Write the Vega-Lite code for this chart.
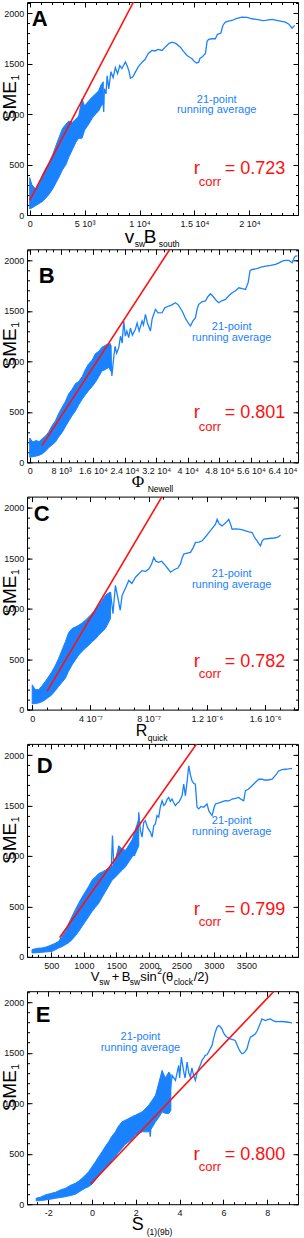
{
"$schema":"https://vega.github.io/schema/vega-lite/v6.json",
"background":"white",
"padding":{"left":0,"top":1,"right":0,"bottom":0},
"spacing":34.3,
"bounds":"flush",
"config":{"view":{"stroke":"#000","strokeWidth":1},"axis":{"grid":false,"domain":false,"labelFont":"Liberation Sans","labelFontSize":9,"labelColor":"#111","tickColor":"#000","labelFlush":false,"labelOverlap":false,"labelBound":false},"text":{"font":"Liberation Sans"}},
"vconcat":[
{
"width":271,"height":213,
"resolve":{"axis":{"x":"independent","y":"independent"}},
"layer":[
{"data":{"values":[{"x":0,"lo":60,"hi":370},{"x":200,"lo":70,"hi":300},{"x":500,"lo":90,"hi":260},{"x":800,"lo":110,"hi":290},{"x":1100,"lo":130,"hi":380},{"x":1400,"lo":160,"hi":450},{"x":1730,"lo":200,"hi":510},{"x":2100,"lo":260,"hi":600},{"x":2400,"lo":320,"hi":690},{"x":2640,"lo":370,"hi":760},{"x":3000,"lo":450,"hi":860},{"x":3300,"lo":500,"hi":900},{"x":3550,"lo":570,"hi":930},{"x":3900,"lo":650,"hi":920},{"x":4200,"lo":720,"hi":950},{"x":4460,"lo":760,"hi":980},{"x":4765,"lo":760,"hi":1150},{"x":5000,"lo":840,"hi":1080},{"x":5370,"lo":900,"hi":1130},{"x":5700,"lo":960,"hi":1170},{"x":6000,"lo":1000,"hi":1200},{"x":6280,"lo":1030,"hi":1230},{"x":6500,"lo":1080,"hi":1290},{"x":6700,"lo":1100,"hi":1320}]},
"mark":{"type":"area","color":"#1a82ff","stroke":"#1a82ff","strokeWidth":1,"clip":true},
"encoding":{"x":{"field":"x","type":"quantitative","scale":{"domain":[-246,24431],"nice":false,"zero":false},"axis":{"orient":"bottom","values":[0,5000,10000,15000,20000],"labelExpr":"datum.value == 0 ? '0' : datum.value == 5000 ? '5 10³' : datum.value == 10000 ? '1 10⁴' : datum.value == 15000 ? '1.5 10⁴' : '2 10⁴'","tickSize":-5,"labelPadding":9.5,"title":null}},
"y":{"field":"lo","type":"quantitative","scale":{"domain":[0,2110],"nice":false,"zero":false},"axis":{"orient":"left","values":[0,500,1000,1500,2000],"format":"d","tickSize":-5,"labelPadding":8.3,"title":null}},
"y2":{"field":"hi"}}},
{"data":{"values":[{"x":6500,"y":1150},{"x":6620,"y":1250},{"x":6740,"y":1020},{"x":6800,"y":1250},{"x":6950,"y":1200},{"x":7050,"y":1380},{"x":7200,"y":1250},{"x":7400,"y":1420},{"x":7600,"y":1360},{"x":7800,"y":1460},{"x":8000,"y":1400},{"x":8200,"y":1480},{"x":8400,"y":1450},{"x":8710,"y":1515},{"x":8900,"y":1470},{"x":9050,"y":1420},{"x":9170,"y":1355},{"x":9400,"y":1370},{"x":9620,"y":1415},{"x":9900,"y":1470},{"x":10230,"y":1514},{"x":10500,"y":1540},{"x":10800,"y":1600},{"x":11140,"y":1630},{"x":11400,"y":1625},{"x":11700,"y":1640},{"x":12050,"y":1630},{"x":12400,"y":1670},{"x":12700,"y":1700},{"x":12960,"y":1713},{"x":13300,"y":1700},{"x":13720,"y":1663},{"x":14000,"y":1620},{"x":14330,"y":1580},{"x":14600,"y":1560},{"x":14780,"y":1548},{"x":15000,"y":1520},{"x":15200,"y":1505},{"x":15390,"y":1514},{"x":15500,"y":1550},{"x":15690,"y":1564},{"x":16000,"y":1600},{"x":16150,"y":1720},{"x":16300,"y":1740},{"x":16600,"y":1746},{"x":16900,"y":1746},{"x":17100,"y":1790},{"x":17400,"y":1800},{"x":17600,"y":1880},{"x":17820,"y":1911},{"x":18100,"y":1920},{"x":18420,"y":1927},{"x":18800,"y":1945},{"x":19330,"y":1960},{"x":19800,"y":1958},{"x":20240,"y":1944},{"x":20800,"y":1935},{"x":21200,"y":1925},{"x":21460,"y":1927},{"x":22070,"y":1937},{"x":22600,"y":1925},{"x":23280,"y":1911},{"x":23600,"y":1890},{"x":23890,"y":1850},{"x":24130,"y":1878}]},
"mark":{"type":"line","color":"#1a82ff","strokeWidth":1.3,"clip":true},
"encoding":{"x":{"field":"x","type":"quantitative","scale":{"domain":[-246,24431],"nice":false,"zero":false},"axis":{"orient":"bottom","values":[0,1000,2000,3000,4000,5000,6000,7000,8000,9000,10000,11000,12000,13000,14000,15000,16000,17000,18000,19000,20000,21000,22000,23000,24000],"labels":false,"tickSize":-2.5,"title":null}},
"y":{"field":"y","type":"quantitative","scale":{"domain":[0,2110],"nice":false,"zero":false},"axis":{"orient":"left","values":[0,100,200,300,400,500,600,700,800,900,1000,1100,1200,1300,1400,1500,1600,1700,1800,1900,2000,2100],"labels":false,"tickSize":-2.5,"title":null}}}},
{"data":{"values":[{"x":0,"y":144},{"x":9452,"y":2110}]},
"mark":{"type":"line","color":"#ff1010","strokeWidth":1.6,"clip":true},
"encoding":{"x":{"field":"x","type":"quantitative","scale":{"domain":[-246,24431],"nice":false,"zero":false},"axis":{"orient":"top","values":[0,5000,10000,15000,20000],"labels":false,"tickSize":-5,"title":null}},
"y":{"field":"y","type":"quantitative","scale":{"domain":[0,2110],"nice":false,"zero":false},"axis":{"orient":"right","values":[0,500,1000,1500,2000],"labels":false,"tickSize":-5,"title":null}}}},
{"data":{"values":[{"x":182,"y":1868,"t":"A"}]},
"mark":{"type":"text","fontSize":22,"fontWeight":"bold","align":"left","baseline":"alphabetic","color":"#000"},
"encoding":{"x":{"field":"x","type":"quantitative","scale":{"domain":[-246,24431],"nice":false,"zero":false},"axis":{"orient":"top","values":[0,1000,2000,3000,4000,5000,6000,7000,8000,9000,10000,11000,12000,13000,14000,15000,16000,17000,18000,19000,20000,21000,22000,23000,24000],"labels":false,"tickSize":-2.5,"title":null}},
"y":{"field":"y","type":"quantitative","scale":{"domain":[0,2110],"nice":false,"zero":false},"axis":{"orient":"right","values":[0,100,200,300,400,500,600,700,800,900,1000,1100,1200,1300,1400,1500,1600,1700,1800,1900,2000,2100],"labels":false,"tickSize":-2.5,"title":null}},"text":{"field":"t"}}},
{"data":{"values":[{"x":17028,"y":1114,"t":"21-point"},{"x":17028,"y":1015,"t":"running average"}]},
"mark":{"type":"text","fontSize":11,"align":"center","baseline":"alphabetic","color":"#1a82ff"},
"encoding":{"x":{"field":"x","type":"quantitative","axis":null},"y":{"field":"y","type":"quantitative","axis":null},"text":{"field":"t"}}},
{"data":{"values":[{"x":14934,"y":411,"t":"r"}]},
"mark":{"type":"text","fontSize":19,"align":"left","baseline":"alphabetic","color":"#ff1010"},
"encoding":{"x":{"field":"x","type":"quantitative","axis":null},"y":{"field":"y","type":"quantitative","axis":null},"text":{"field":"t"}}},
{"data":{"values":[{"x":17756,"y":411,"t":"= 0.723"}]},
"mark":{"type":"text","fontSize":18,"align":"left","baseline":"alphabetic","color":"#ff1010"},
"encoding":{"x":{"field":"x","type":"quantitative","axis":null},"y":{"field":"y","type":"quantitative","axis":null},"text":{"field":"t"}}},
{"data":{"values":[{"x":15389,"y":292,"t":"corr"}]},
"mark":{"type":"text","fontSize":13,"align":"left","baseline":"alphabetic","color":"#ff1010"},
"encoding":{"x":{"field":"x","type":"quantitative","axis":null},"y":{"field":"y","type":"quantitative","axis":null},"text":{"field":"t"}}},
{"data":{"values":[{"x":8650,"y":-282,"t":"v"},{"x":10381,"y":-282,"t":"B"}]},
"mark":{"type":"text","fontSize":19,"align":"left","baseline":"alphabetic","color":"#000"},
"encoding":{"x":{"field":"x","type":"quantitative","axis":null},"y":{"field":"y","type":"quantitative","axis":null},"text":{"field":"t"}}},
{"data":{"values":[{"x":9561,"y":-317,"t":"sw"},{"x":11745,"y":-317,"t":"south"}]},
"mark":{"type":"text","fontSize":8.5,"align":"left","baseline":"alphabetic","color":"#000"},
"encoding":{"x":{"field":"x","type":"quantitative","axis":null},"y":{"field":"y","type":"quantitative","axis":null},"text":{"field":"t"}}},
{"data":{"values":[{"x":-1275,"y":1124,"t":"SME"}]},
"mark":{"type":"text","fontSize":19,"angle":270,"align":"center","baseline":"alphabetic","color":"#000"},
"encoding":{"x":{"field":"x","type":"quantitative","axis":null},"y":{"field":"y","type":"quantitative","axis":null},"text":{"field":"t"}}},
{"data":{"values":[{"x":-956,"y":1333,"t":"1"}]},
"mark":{"type":"text","fontSize":10.5,"angle":270,"align":"left","baseline":"alphabetic","color":"#000"},
"encoding":{"x":{"field":"x","type":"quantitative","axis":null},"y":{"field":"y","type":"quantitative","axis":null},"text":{"field":"t"}}}
]
},
{
"width":271,"height":213,
"resolve":{"axis":{"x":"independent","y":"independent"}},
"layer":[
{"data":{"values":[{"x":0,"lo":50,"hi":240},{"x":800,"lo":55,"hi":200},{"x":1600,"lo":62,"hi":215},{"x":2400,"lo":70,"hi":205},{"x":3200,"lo":85,"hi":235},{"x":4000,"lo":110,"hi":260},{"x":4800,"lo":145,"hi":300},{"x":5600,"lo":170,"hi":360},{"x":6500,"lo":200,"hi":410},{"x":7300,"lo":250,"hi":480},{"x":8200,"lo":295,"hi":545},{"x":9000,"lo":350,"hi":600},{"x":9900,"lo":410,"hi":680},{"x":10700,"lo":460,"hi":720},{"x":11600,"lo":510,"hi":780},{"x":12400,"lo":570,"hi":800},{"x":13300,"lo":625,"hi":850},{"x":14100,"lo":670,"hi":920},{"x":14900,"lo":710,"hi":975},{"x":15800,"lo":750,"hi":1010},{"x":16600,"lo":790,"hi":1075},{"x":17500,"lo":850,"hi":1100},{"x":18300,"lo":905,"hi":1140},{"x":19200,"lo":920,"hi":1160},{"x":20000,"lo":940,"hi":1175},{"x":20600,"lo":900,"hi":1160}]},
"mark":{"type":"area","color":"#1a82ff","stroke":"#1a82ff","strokeWidth":1,"clip":true},
"encoding":{"x":{"field":"x","type":"quantitative","scale":{"domain":[-684,67924],"nice":false,"zero":false},"axis":{"orient":"bottom","values":[0,8000,16000,24000,32000,40000,48000,56000,64000],"labelExpr":"datum.value == 0 ? '0' : datum.value == 8000 ? '8 10³' : format(datum.value/10000, '.1~f') + ' 10⁴'","tickSize":-5,"labelPadding":9.5,"title":null}},
"y":{"field":"lo","type":"quantitative","scale":{"domain":[0,2110],"nice":false,"zero":false},"axis":{"orient":"left","values":[0,500,1000,1500,2000],"format":"d","tickSize":-5,"labelPadding":8.3,"title":null}},
"y2":{"field":"hi"}}},
{"data":{"values":[{"x":20000,"y":1000},{"x":20400,"y":1180},{"x":20800,"y":856},{"x":21270,"y":1037},{"x":21600,"y":1150},{"x":22000,"y":1080},{"x":22540,"y":1136},{"x":23000,"y":1250},{"x":23400,"y":1180},{"x":23800,"y":1400},{"x":24200,"y":1250},{"x":24600,"y":1300},{"x":25070,"y":1235},{"x":25500,"y":1330},{"x":26000,"y":1260},{"x":26760,"y":1318},{"x":27200,"y":1380},{"x":27700,"y":1300},{"x":28450,"y":1400},{"x":28800,"y":1360},{"x":29300,"y":1466},{"x":29800,"y":1380},{"x":30570,"y":1301},{"x":31000,"y":1420},{"x":31830,"y":1515},{"x":32500,"y":1480},{"x":33520,"y":1482},{"x":34200,"y":1530},{"x":35210,"y":1548},{"x":36000,"y":1560},{"x":36900,"y":1581},{"x":37600,"y":1560},{"x":38590,"y":1499},{"x":39500,"y":1420},{"x":40300,"y":1370},{"x":40700,"y":1350},{"x":41300,"y":1400},{"x":41970,"y":1433},{"x":42400,"y":1520},{"x":42810,"y":1565},{"x":43600,"y":1590},{"x":44500,"y":1598},{"x":45100,"y":1640},{"x":45770,"y":1670},{"x":46500,"y":1640},{"x":47300,"y":1600},{"x":47880,"y":1581},{"x":48600,"y":1600},{"x":49570,"y":1614},{"x":50400,"y":1650},{"x":51260,"y":1680},{"x":52100,"y":1700},{"x":52950,"y":1729},{"x":53800,"y":1720},{"x":54640,"y":1713},{"x":55300,"y":1780},{"x":55800,"y":1900},{"x":56330,"y":1910},{"x":57200,"y":1915},{"x":58020,"y":1927},{"x":58800,"y":1935},{"x":59710,"y":1943},{"x":61000,"y":1950},{"x":62240,"y":1960},{"x":63100,"y":1975},{"x":63930,"y":1993},{"x":64800,"y":2000},{"x":65620,"y":2000},{"x":66460,"y":1976},{"x":67000,"y":2030},{"x":67300,"y":2042},{"x":67800,"y":2045}]},
"mark":{"type":"line","color":"#1a82ff","strokeWidth":1.3,"clip":true},
"encoding":{"x":{"field":"x","type":"quantitative","scale":{"domain":[-684,67924],"nice":false,"zero":false},"axis":{"orient":"bottom","values":[0,2000,4000,6000,8000,10000,12000,14000,16000,18000,20000,22000,24000,26000,28000,30000,32000,34000,36000,38000,40000,42000,44000,46000,48000,50000,52000,54000,56000,58000,60000,62000,64000,66000],"labels":false,"tickSize":-2.5,"title":null}},
"y":{"field":"y","type":"quantitative","scale":{"domain":[0,2110],"nice":false,"zero":false},"axis":{"orient":"left","values":[0,100,200,300,400,500,600,700,800,900,1000,1100,1200,1300,1400,1500,1600,1700,1800,1900,2000,2100],"labels":false,"tickSize":-2.5,"title":null}}}},
{"data":{"values":[{"x":3120,"y":165},{"x":35480,"y":2110}]},
"mark":{"type":"line","color":"#ff1010","strokeWidth":1.6,"clip":true},
"encoding":{"x":{"field":"x","type":"quantitative","scale":{"domain":[-684,67924],"nice":false,"zero":false},"axis":{"orient":"top","values":[0,8000,16000,24000,32000,40000,48000,56000,64000],"labels":false,"tickSize":-5,"title":null}},
"y":{"field":"y","type":"quantitative","scale":{"domain":[0,2110],"nice":false,"zero":false},"axis":{"orient":"right","values":[0,500,1000,1500,2000],"labels":false,"tickSize":-5,"title":null}}}},
{"data":{"values":[{"x":2278,"y":1781,"t":"B"}]},
"mark":{"type":"text","fontSize":22,"fontWeight":"bold","align":"left","baseline":"alphabetic","color":"#000"},
"encoding":{"x":{"field":"x","type":"quantitative","scale":{"domain":[-684,67924],"nice":false,"zero":false},"axis":{"orient":"top","values":[0,2000,4000,6000,8000,10000,12000,14000,16000,18000,20000,22000,24000,26000,28000,30000,32000,34000,36000,38000,40000,42000,44000,46000,48000,50000,52000,54000,56000,58000,60000,62000,64000,66000],"labels":false,"tickSize":-2.5,"title":null}},
"y":{"field":"y","type":"quantitative","scale":{"domain":[0,2110],"nice":false,"zero":false},"axis":{"orient":"right","values":[0,100,200,300,400,500,600,700,800,900,1000,1100,1200,1300,1400,1500,1600,1700,1800,1900,2000,2100],"labels":false,"tickSize":-2.5,"title":null}},"text":{"field":"t"}}},
{"data":{"values":[{"x":51139,"y":1306,"t":"21-point"},{"x":51139,"y":1200,"t":"running average"}]},
"mark":{"type":"text","fontSize":11,"align":"center","baseline":"alphabetic","color":"#1a82ff"},
"encoding":{"x":{"field":"x","type":"quantitative","axis":null},"y":{"field":"y","type":"quantitative","axis":null},"text":{"field":"t"}}},
{"data":{"values":[{"x":41519,"y":434,"t":"r"}]},
"mark":{"type":"text","fontSize":19,"align":"left","baseline":"alphabetic","color":"#ff1010"},
"encoding":{"x":{"field":"x","type":"quantitative","axis":null},"y":{"field":"y","type":"quantitative","axis":null},"text":{"field":"t"}}},
{"data":{"values":[{"x":49367,"y":434,"t":"= 0.801"}]},
"mark":{"type":"text","fontSize":18,"align":"left","baseline":"alphabetic","color":"#ff1010"},
"encoding":{"x":{"field":"x","type":"quantitative","axis":null},"y":{"field":"y","type":"quantitative","axis":null},"text":{"field":"t"}}},
{"data":{"values":[{"x":42785,"y":315,"t":"corr"}]},
"mark":{"type":"text","fontSize":13,"align":"left","baseline":"alphabetic","color":"#ff1010"},
"encoding":{"x":{"field":"x","type":"quantitative","axis":null},"y":{"field":"y","type":"quantitative","axis":null},"text":{"field":"t"}}},
{"data":{"values":[{"x":25823,"y":-240,"t":"Φ"}]},
"mark":{"type":"text","fontSize":17,"font":"Liberation Serif","align":"left","baseline":"alphabetic","color":"#000"},
"encoding":{"x":{"field":"x","type":"quantitative","axis":null},"y":{"field":"y","type":"quantitative","axis":null},"text":{"field":"t"}}},
{"data":{"values":[{"x":29870,"y":-299,"t":"Newell"}]},
"mark":{"type":"text","fontSize":8.5,"align":"left","baseline":"alphabetic","color":"#000"},
"encoding":{"x":{"field":"x","type":"quantitative","axis":null},"y":{"field":"y","type":"quantitative","axis":null},"text":{"field":"t"}}},
{"data":{"values":[{"x":-3544,"y":1124,"t":"SME"}]},
"mark":{"type":"text","fontSize":19,"angle":270,"align":"center","baseline":"alphabetic","color":"#000"},
"encoding":{"x":{"field":"x","type":"quantitative","axis":null},"y":{"field":"y","type":"quantitative","axis":null},"text":{"field":"t"}}},
{"data":{"values":[{"x":-2658,"y":1333,"t":"1"}]},
"mark":{"type":"text","fontSize":10.5,"angle":270,"align":"left","baseline":"alphabetic","color":"#000"},
"encoding":{"x":{"field":"x","type":"quantitative","axis":null},"y":{"field":"y","type":"quantitative","axis":null},"text":{"field":"t"}}}
]
},
{
"width":271,"height":213,
"resolve":{"axis":{"x":"independent","y":"independent"}},
"layer":[
{"data":{"values":[{"x":0,"lo":56,"hi":246},{"x":0.2,"lo":60,"hi":200},{"x":0.45,"lo":66,"hi":197},{"x":0.7,"lo":80,"hi":240},{"x":0.9,"lo":98,"hi":279},{"x":1.1,"lo":120,"hi":320},{"x":1.36,"lo":148,"hi":377},{"x":1.6,"lo":190,"hi":440},{"x":1.82,"lo":230,"hi":508},{"x":2.05,"lo":270,"hi":590},{"x":2.28,"lo":311,"hi":672},{"x":2.5,"lo":380,"hi":760},{"x":2.74,"lo":443,"hi":803},{"x":3.0,"lo":500,"hi":820},{"x":3.2,"lo":541,"hi":836},{"x":3.45,"lo":580,"hi":860},{"x":3.65,"lo":607,"hi":885},{"x":3.9,"lo":640,"hi":920},{"x":4.11,"lo":672,"hi":951},{"x":4.35,"lo":700,"hi":990},{"x":4.57,"lo":738,"hi":1033},{"x":4.8,"lo":770,"hi":1080},{"x":5.03,"lo":803,"hi":1131},{"x":5.2,"lo":850,"hi":1150},{"x":5.38,"lo":902,"hi":1164}]},
"mark":{"type":"area","color":"#1a82ff","stroke":"#1a82ff","strokeWidth":1,"clip":true},
"encoding":{"x":{"field":"x","type":"quantitative","scale":{"domain":[-0.357,18.268],"nice":false,"zero":false},"axis":{"orient":"bottom","values":[0,4,8,12,16],"labelExpr":"datum.value == 0 ? '0' : datum.value < 10 ? datum.value + ' 10⁻⁷' : format(datum.value/10, '.1f') + ' 10⁻⁶'","tickSize":-5,"labelPadding":9.5,"title":null}},
"y":{"field":"lo","type":"quantitative","scale":{"domain":[0,2110],"nice":false,"zero":false},"axis":{"orient":"left","values":[0,500,1000,1500,2000],"format":"d","tickSize":-5,"labelPadding":8.3,"title":null}},
"y2":{"field":"hi"}}},
{"data":{"values":[{"x":5.2,"y":1000},{"x":5.38,"y":1164},{"x":5.55,"y":950},{"x":5.72,"y":1230},{"x":5.9,"y":1100},{"x":6.05,"y":984},{"x":6.18,"y":1131},{"x":6.4,"y":1200},{"x":6.64,"y":1279},{"x":6.85,"y":1250},{"x":7.1,"y":1311},{"x":7.3,"y":1340},{"x":7.55,"y":1377},{"x":7.8,"y":1370},{"x":8.01,"y":1393},{"x":8.2,"y":1440},{"x":8.36,"y":1508},{"x":8.5,"y":1470},{"x":8.7,"y":1459},{"x":8.9,"y":1470},{"x":9.16,"y":1426},{"x":9.3,"y":1400},{"x":9.51,"y":1361},{"x":9.7,"y":1380},{"x":9.85,"y":1393},{"x":10.0,"y":1400},{"x":10.19,"y":1443},{"x":10.3,"y":1500},{"x":10.42,"y":1541},{"x":10.65,"y":1550},{"x":10.88,"y":1557},{"x":11.05,"y":1600},{"x":11.22,"y":1656},{"x":11.45,"y":1660},{"x":11.68,"y":1672},{"x":11.9,"y":1710},{"x":12.14,"y":1754},{"x":12.4,"y":1800},{"x":12.6,"y":1836},{"x":12.71,"y":1885},{"x":12.85,"y":1840},{"x":13.05,"y":1820},{"x":13.3,"y":1850},{"x":13.51,"y":1885},{"x":13.65,"y":1830},{"x":13.74,"y":1787},{"x":14.0,"y":1790},{"x":14.2,"y":1787},{"x":14.45,"y":1780},{"x":14.66,"y":1770},{"x":14.9,"y":1760},{"x":15.12,"y":1754},{"x":15.3,"y":1700},{"x":15.46,"y":1672},{"x":15.6,"y":1640},{"x":15.69,"y":1623},{"x":15.8,"y":1670},{"x":15.92,"y":1689},{"x":16.26,"y":1695},{"x":16.6,"y":1700},{"x":16.84,"y":1705},{"x":17.07,"y":1728}]},
"mark":{"type":"line","color":"#1a82ff","strokeWidth":1.3,"clip":true},
"encoding":{"x":{"field":"x","type":"quantitative","scale":{"domain":[-0.357,18.268],"nice":false,"zero":false},"axis":{"orient":"bottom","values":[0,1,2,3,4,5,6,7,8,9,10,11,12,13,14,15,16,17,18],"labels":false,"tickSize":-2.5,"title":null}},
"y":{"field":"y","type":"quantitative","scale":{"domain":[0,2110],"nice":false,"zero":false},"axis":{"orient":"left","values":[0,100,200,300,400,500,600,700,800,900,1000,1100,1200,1300,1400,1500,1600,1700,1800,1900,2000,2100],"labels":false,"tickSize":-2.5,"title":null}}}},
{"data":{"values":[{"x":1.02,"y":180},{"x":8.92,"y":2110}]},
"mark":{"type":"line","color":"#ff1010","strokeWidth":1.6,"clip":true},
"encoding":{"x":{"field":"x","type":"quantitative","scale":{"domain":[-0.357,18.268],"nice":false,"zero":false},"axis":{"orient":"top","values":[0,4,8,12,16],"labels":false,"tickSize":-5,"title":null}},
"y":{"field":"y","type":"quantitative","scale":{"domain":[0,2110],"nice":false,"zero":false},"axis":{"orient":"right","values":[0,500,1000,1500,2000],"labels":false,"tickSize":-5,"title":null}}}},
{"data":{"values":[{"x":0.103,"y":1873,"t":"C"}]},
"mark":{"type":"text","fontSize":22,"fontWeight":"bold","align":"left","baseline":"alphabetic","color":"#000"},
"encoding":{"x":{"field":"x","type":"quantitative","scale":{"domain":[-0.357,18.268],"nice":false,"zero":false},"axis":{"orient":"top","values":[0,1,2,3,4,5,6,7,8,9,10,11,12,13,14,15,16,17,18],"labels":false,"tickSize":-2.5,"title":null}},
"y":{"field":"y","type":"quantitative","scale":{"domain":[0,2110],"nice":false,"zero":false},"axis":{"orient":"right","values":[0,100,200,300,400,500,600,700,800,900,1000,1100,1200,1300,1400,1500,1600,1700,1800,1900,2000,2100],"labels":false,"tickSize":-2.5,"title":null}},"text":{"field":"t"}}},
{"data":{"values":[{"x":13.71,"y":1312,"t":"21-point"},{"x":13.71,"y":1207,"t":"running average"}]},
"mark":{"type":"text","fontSize":11,"align":"center","baseline":"alphabetic","color":"#1a82ff"},
"encoding":{"x":{"field":"x","type":"quantitative","axis":null},"y":{"field":"y","type":"quantitative","axis":null},"text":{"field":"t"}}},
{"data":{"values":[{"x":11.10,"y":420,"t":"r"}]},
"mark":{"type":"text","fontSize":19,"align":"left","baseline":"alphabetic","color":"#ff1010"},
"encoding":{"x":{"field":"x","type":"quantitative","axis":null},"y":{"field":"y","type":"quantitative","axis":null},"text":{"field":"t"}}},
{"data":{"values":[{"x":13.23,"y":420,"t":"= 0.782"}]},
"mark":{"type":"text","fontSize":18,"align":"left","baseline":"alphabetic","color":"#ff1010"},
"encoding":{"x":{"field":"x","type":"quantitative","axis":null},"y":{"field":"y","type":"quantitative","axis":null},"text":{"field":"t"}}},
{"data":{"values":[{"x":11.44,"y":311,"t":"corr"}]},
"mark":{"type":"text","fontSize":13,"align":"left","baseline":"alphabetic","color":"#ff1010"},
"encoding":{"x":{"field":"x","type":"quantitative","axis":null},"y":{"field":"y","type":"quantitative","axis":null},"text":{"field":"t"}}},
{"data":{"values":[{"x":7.11,"y":-257,"t":"R"}]},
"mark":{"type":"text","fontSize":16,"align":"left","baseline":"alphabetic","color":"#000"},
"encoding":{"x":{"field":"x","type":"quantitative","axis":null},"y":{"field":"y","type":"quantitative","axis":null},"text":{"field":"t"}}},
{"data":{"values":[{"x":7.94,"y":-311,"t":"quick"}]},
"mark":{"type":"text","fontSize":8.5,"align":"left","baseline":"alphabetic","color":"#000"},
"encoding":{"x":{"field":"x","type":"quantitative","axis":null},"y":{"field":"y","type":"quantitative","axis":null},"text":{"field":"t"}}},
{"data":{"values":[{"x":-1.134,"y":1124,"t":"SME"}]},
"mark":{"type":"text","fontSize":19,"angle":270,"align":"center","baseline":"alphabetic","color":"#000"},
"encoding":{"x":{"field":"x","type":"quantitative","axis":null},"y":{"field":"y","type":"quantitative","axis":null},"text":{"field":"t"}}},
{"data":{"values":[{"x":-0.893,"y":1333,"t":"1"}]},
"mark":{"type":"text","fontSize":10.5,"angle":270,"align":"left","baseline":"alphabetic","color":"#000"},
"encoding":{"x":{"field":"x","type":"quantitative","axis":null},"y":{"field":"y","type":"quantitative","axis":null},"text":{"field":"t"}}}
]
},
{
"width":271,"height":213,
"resolve":{"axis":{"x":"independent","y":"independent"}},
"layer":[
{"data":{"values":[{"x":202,"lo":39,"hi":72},{"x":280,"lo":42,"hi":85},{"x":356,"lo":46,"hi":88},{"x":430,"lo":50,"hi":100},{"x":510,"lo":55,"hi":121},{"x":560,"lo":70,"hi":135},{"x":612,"lo":88,"hi":154},{"x":660,"lo":100,"hi":200},{"x":715,"lo":121,"hi":252},{"x":765,"lo":140,"hi":330},{"x":817,"lo":170,"hi":400},{"x":870,"lo":210,"hi":470},{"x":920,"lo":252,"hi":531},{"x":970,"lo":300,"hi":590},{"x":1023,"lo":350,"hi":646},{"x":1075,"lo":400,"hi":700},{"x":1125,"lo":449,"hi":760},{"x":1175,"lo":490,"hi":790},{"x":1228,"lo":531,"hi":826},{"x":1280,"lo":590,"hi":840},{"x":1331,"lo":646,"hi":859},{"x":1380,"lo":700,"hi":880},{"x":1433,"lo":760,"hi":891},{"x":1485,"lo":790,"hi":960},{"x":1536,"lo":826,"hi":1101},{"x":1590,"lo":860,"hi":1070},{"x":1638,"lo":891,"hi":1055},{"x":1690,"lo":940,"hi":1100},{"x":1741,"lo":990,"hi":1154},{"x":1790,"lo":1020,"hi":1250},{"x":1844,"lo":1100,"hi":1367}]},
"mark":{"type":"area","color":"#1a82ff","stroke":"#1a82ff","strokeWidth":1,"clip":true},
"encoding":{"x":{"field":"x","type":"quantitative","scale":{"domain":[125,4294],"nice":false,"zero":false},"axis":{"orient":"bottom","values":[500,1000,1500,2000,2500,3000,3500],"format":"d","tickSize":-5,"labelPadding":9.5,"title":null}},
"y":{"field":"lo","type":"quantitative","scale":{"domain":[0,2110],"nice":false,"zero":false},"axis":{"orient":"left","values":[0,500,1000,1500,2000],"format":"d","tickSize":-5,"labelPadding":8.3,"title":null}},
"y2":{"field":"hi"}}},
{"data":{"values":[{"x":1420,"y":850},{"x":1440,"y":1203},{"x":1460,"y":900},{"x":1600,"y":1000},{"x":1741,"y":1154},{"x":1780,"y":1000},{"x":1810,"y":1300},{"x":1830,"y":1100},{"x":1844,"y":1432},{"x":1870,"y":1250},{"x":1895,"y":1187},{"x":1920,"y":1330},{"x":1946,"y":1350},{"x":1980,"y":1280},{"x":2023,"y":1236},{"x":2049,"y":1187},{"x":2075,"y":1300},{"x":2100,"y":1318},{"x":2125,"y":1400},{"x":2151,"y":1384},{"x":2175,"y":1480},{"x":2203,"y":1547},{"x":2230,"y":1500},{"x":2254,"y":1515},{"x":2280,"y":1560},{"x":2305,"y":1580},{"x":2330,"y":1540},{"x":2356,"y":1564},{"x":2380,"y":1530},{"x":2408,"y":1498},{"x":2435,"y":1520},{"x":2459,"y":1531},{"x":2485,"y":1560},{"x":2510,"y":1596},{"x":2536,"y":1711},{"x":2550,"y":1650},{"x":2562,"y":1596},{"x":2590,"y":1750},{"x":2613,"y":1892},{"x":2640,"y":1800},{"x":2664,"y":1744},{"x":2690,"y":1720},{"x":2715,"y":1711},{"x":2741,"y":1482},{"x":2767,"y":1466},{"x":2800,"y":1490},{"x":2844,"y":1482},{"x":2870,"y":1500},{"x":2895,"y":1515},{"x":2921,"y":1449},{"x":2950,"y":1420},{"x":2972,"y":1400},{"x":3000,"y":1470},{"x":3023,"y":1515},{"x":3100,"y":1530},{"x":3177,"y":1547},{"x":3230,"y":1545},{"x":3280,"y":1564},{"x":3330,"y":1570},{"x":3382,"y":1580},{"x":3420,"y":1560},{"x":3459,"y":1547},{"x":3485,"y":1646},{"x":3530,"y":1660},{"x":3587,"y":1695},{"x":3640,"y":1730},{"x":3690,"y":1760},{"x":3740,"y":1760},{"x":3792,"y":1750},{"x":3850,"y":1755},{"x":3895,"y":1760},{"x":3950,"y":1800},{"x":3997,"y":1842},{"x":4050,"y":1855},{"x":4100,"y":1859},{"x":4150,"y":1862},{"x":4203,"y":1868}]},
"mark":{"type":"line","color":"#1a82ff","strokeWidth":1.3,"clip":true},
"encoding":{"x":{"field":"x","type":"quantitative","scale":{"domain":[125,4294],"nice":false,"zero":false},"axis":{"orient":"bottom","values":[200,300,400,500,600,700,800,900,1000,1100,1200,1300,1400,1500,1600,1700,1800,1900,2000,2100,2200,2300,2400,2500,2600,2700,2800,2900,3000,3100,3200,3300,3400,3500,3600,3700,3800,3900,4000,4100,4200],"labels":false,"tickSize":-2.5,"title":null}},
"y":{"field":"y","type":"quantitative","scale":{"domain":[0,2110],"nice":false,"zero":false},"axis":{"orient":"left","values":[0,100,200,300,400,500,600,700,800,900,1000,1100,1200,1300,1400,1500,1600,1700,1800,1900,2000,2100],"labels":false,"tickSize":-2.5,"title":null}}}},
{"data":{"values":[{"x":628,"y":193},{"x":2735,"y":2110}]},
"mark":{"type":"line","color":"#ff1010","strokeWidth":1.6,"clip":true},
"encoding":{"x":{"field":"x","type":"quantitative","scale":{"domain":[125,4294],"nice":false,"zero":false},"axis":{"orient":"top","values":[500,1000,1500,2000,2500,3000,3500,4000],"labels":false,"tickSize":-5,"title":null}},
"y":{"field":"y","type":"quantitative","scale":{"domain":[0,2110],"nice":false,"zero":false},"axis":{"orient":"right","values":[0,500,1000,1500,2000],"labels":false,"tickSize":-5,"title":null}}}},
{"data":{"values":[{"x":274,"y":1817,"t":"D"}]},
"mark":{"type":"text","fontSize":22,"fontWeight":"bold","align":"left","baseline":"alphabetic","color":"#000"},
"encoding":{"x":{"field":"x","type":"quantitative","scale":{"domain":[125,4294],"nice":false,"zero":false},"axis":{"orient":"top","values":[200,300,400,500,600,700,800,900,1000,1100,1200,1300,1400,1500,1600,1700,1800,1900,2000,2100,2200,2300,2400,2500,2600,2700,2800,2900,3000,3100,3200,3300,3400,3500,3600,3700,3800,3900,4000,4100,4200],"labels":false,"tickSize":-2.5,"title":null}},
"y":{"field":"y","type":"quantitative","scale":{"domain":[0,2110],"nice":false,"zero":false},"axis":{"orient":"right","values":[0,100,200,300,400,500,600,700,800,900,1000,1100,1200,1300,1400,1500,1600,1700,1800,1900,2000,2100],"labels":false,"tickSize":-2.5,"title":null}},"text":{"field":"t"}}},
{"data":{"values":[{"x":3274,"y":1312,"t":"21-point"},{"x":3274,"y":1203,"t":"running average"}]},
"mark":{"type":"text","fontSize":11,"align":"center","baseline":"alphabetic","color":"#1a82ff"},
"encoding":{"x":{"field":"x","type":"quantitative","axis":null},"y":{"field":"y","type":"quantitative","axis":null},"text":{"field":"t"}}},
{"data":{"values":[{"x":2689,"y":420,"t":"r"}]},
"mark":{"type":"text","fontSize":19,"align":"left","baseline":"alphabetic","color":"#ff1010"},
"encoding":{"x":{"field":"x","type":"quantitative","axis":null},"y":{"field":"y","type":"quantitative","axis":null},"text":{"field":"t"}}},
{"data":{"values":[{"x":3167,"y":420,"t":"= 0.799"}]},
"mark":{"type":"text","fontSize":18,"align":"left","baseline":"alphabetic","color":"#ff1010"},
"encoding":{"x":{"field":"x","type":"quantitative","axis":null},"y":{"field":"y","type":"quantitative","axis":null},"text":{"field":"t"}}},
{"data":{"values":[{"x":2766,"y":311,"t":"corr"}]},
"mark":{"type":"text","fontSize":13,"align":"left","baseline":"alphabetic","color":"#ff1010"},
"encoding":{"x":{"field":"x","type":"quantitative","axis":null},"y":{"field":"y","type":"quantitative","axis":null},"text":{"field":"t"}}},
{"data":{"values":[{"x":1105,"y":-241,"t":"V"},{"x":1428,"y":-241,"t":"+"},{"x":1582,"y":-241,"t":"B"},{"x":1867,"y":-241,"t":"sin"},{"x":2197,"y":-241,"t":"(θ"},{"x":2690,"y":-241,"t":"/2)"}]},
"mark":{"type":"text","fontSize":13,"align":"left","baseline":"alphabetic","color":"#000"},
"encoding":{"x":{"field":"x","type":"quantitative","axis":null},"y":{"field":"y","type":"quantitative","axis":null},"text":{"field":"t"}}},
{"data":{"values":[{"x":1236,"y":-283,"t":"sw"},{"x":1705,"y":-283,"t":"sw"},{"x":2128,"y":-174,"t":"2"},{"x":2382,"y":-283,"t":"clock"}]},
"mark":{"type":"text","fontSize":8.5,"align":"left","baseline":"alphabetic","color":"#000"},
"encoding":{"x":{"field":"x","type":"quantitative","axis":null},"y":{"field":"y","type":"quantitative","axis":null},"text":{"field":"t"}}},
{"data":{"values":[{"x":-49,"y":1124,"t":"SME"}]},
"mark":{"type":"text","fontSize":19,"angle":270,"align":"center","baseline":"alphabetic","color":"#000"},
"encoding":{"x":{"field":"x","type":"quantitative","axis":null},"y":{"field":"y","type":"quantitative","axis":null},"text":{"field":"t"}}},
{"data":{"values":[{"x":5,"y":1333,"t":"1"}]},
"mark":{"type":"text","fontSize":10.5,"angle":270,"align":"left","baseline":"alphabetic","color":"#000"},
"encoding":{"x":{"field":"x","type":"quantitative","axis":null},"y":{"field":"y","type":"quantitative","axis":null},"text":{"field":"t"}}}
]
},
{
"width":271,"height":213,
"resolve":{"axis":{"x":"independent","y":"independent"}},
"layer":[
{"data":{"values":[{"x":-2.55,"lo":33,"hi":59},{"x":-2.35,"lo":36,"hi":70},{"x":-2.13,"lo":42,"hi":92},{"x":-1.9,"lo":50,"hi":105},{"x":-1.67,"lo":59,"hi":118},{"x":-1.45,"lo":66,"hi":140},{"x":-1.21,"lo":75,"hi":158},{"x":-1.0,"lo":85,"hi":185},{"x":-0.76,"lo":98,"hi":207},{"x":-0.6,"lo":120,"hi":230},{"x":-0.45,"lo":141,"hi":256},{"x":-0.3,"lo":160,"hi":290},{"x":-0.15,"lo":174,"hi":322},{"x":0.0,"lo":200,"hi":370},{"x":0.16,"lo":240,"hi":421},{"x":0.3,"lo":280,"hi":470},{"x":0.46,"lo":322,"hi":520},{"x":0.6,"lo":355,"hi":570},{"x":0.76,"lo":388,"hi":618},{"x":0.9,"lo":430,"hi":670},{"x":1.07,"lo":470,"hi":717},{"x":1.2,"lo":510,"hi":770},{"x":1.37,"lo":553,"hi":816},{"x":1.5,"lo":590,"hi":830},{"x":1.68,"lo":618,"hi":849},{"x":1.85,"lo":650,"hi":870},{"x":1.98,"lo":684,"hi":882},{"x":2.15,"lo":700,"hi":900},{"x":2.29,"lo":717,"hi":914},{"x":2.45,"lo":717,"hi":950},{"x":2.59,"lo":717,"hi":980},{"x":2.75,"lo":760,"hi":1030},{"x":2.9,"lo":816,"hi":1079},{"x":3.05,"lo":860,"hi":1200},{"x":3.2,"lo":914,"hi":1326},{"x":3.35,"lo":900,"hi":1250},{"x":3.51,"lo":898,"hi":1310},{"x":3.6,"lo":930,"hi":1277}]},
"mark":{"type":"area","color":"#1a82ff","stroke":"#1a82ff","strokeWidth":1,"clip":true},
"encoding":{"x":{"field":"x","type":"quantitative","scale":{"domain":[-2.968,9.406],"nice":false,"zero":false},"axis":{"orient":"bottom","values":[-2,0,2,4,6,8],"labelExpr":"'' + datum.value","tickSize":-5,"labelPadding":9.5,"title":null}},
"y":{"field":"lo","type":"quantitative","scale":{"domain":[0,2110],"nice":false,"zero":false},"axis":{"orient":"left","values":[0,500,1000,1500,2000],"format":"d","tickSize":-5,"labelPadding":8.3,"title":null}},
"y2":{"field":"hi"}}},
{"data":{"values":[{"x":2.55,"y":900},{"x":2.66,"y":668},{"x":2.75,"y":950},{"x":3.5,"y":1000},{"x":3.66,"y":1277},{"x":3.81,"y":1227},{"x":3.96,"y":1375},{"x":4.0,"y":1250},{"x":4.08,"y":1458},{"x":4.19,"y":1310},{"x":4.25,"y":1250},{"x":4.34,"y":1408},{"x":4.42,"y":1300},{"x":4.49,"y":1260},{"x":4.56,"y":1350},{"x":4.64,"y":1277},{"x":4.72,"y":1227},{"x":4.8,"y":1300},{"x":4.87,"y":1342},{"x":4.95,"y":1380},{"x":5.02,"y":1425},{"x":5.1,"y":1450},{"x":5.17,"y":1474},{"x":5.25,"y":1480},{"x":5.32,"y":1507},{"x":5.4,"y":1540},{"x":5.48,"y":1573},{"x":5.55,"y":1640},{"x":5.63,"y":1704},{"x":5.7,"y":1750},{"x":5.78,"y":1770},{"x":5.85,"y":1760},{"x":5.93,"y":1737},{"x":6.0,"y":1700},{"x":6.09,"y":1671},{"x":6.2,"y":1650},{"x":6.31,"y":1638},{"x":6.43,"y":1630},{"x":6.54,"y":1622},{"x":6.62,"y":1580},{"x":6.7,"y":1540},{"x":6.78,"y":1510},{"x":6.85,"y":1490},{"x":6.95,"y":1500},{"x":7.08,"y":1540},{"x":7.15,"y":1600},{"x":7.23,"y":1655},{"x":7.35,"y":1670},{"x":7.46,"y":1688},{"x":7.55,"y":1720},{"x":7.61,"y":1753},{"x":7.7,"y":1800},{"x":7.76,"y":1836},{"x":7.85,"y":1825},{"x":7.92,"y":1819},{"x":8.05,"y":1830},{"x":8.15,"y":1836},{"x":8.25,"y":1820},{"x":8.37,"y":1810},{"x":8.5,"y":1808},{"x":8.68,"y":1810},{"x":8.9,"y":1805},{"x":9.13,"y":1797}]},
"mark":{"type":"line","color":"#1a82ff","strokeWidth":1.3,"clip":true},
"encoding":{"x":{"field":"x","type":"quantitative","scale":{"domain":[-2.968,9.406],"nice":false,"zero":false},"axis":{"orient":"bottom","values":[-2.5,-2,-1.5,-1,-0.5,0,0.5,1,1.5,2,2.5,3,3.5,4,4.5,5,5.5,6,6.5,7,7.5,8,8.5,9],"labels":false,"tickSize":-2.5,"title":null}},
"y":{"field":"y","type":"quantitative","scale":{"domain":[0,2110],"nice":false,"zero":false},"axis":{"orient":"left","values":[0,100,200,300,400,500,600,700,800,900,1000,1100,1200,1300,1400,1500,1600,1700,1800,1900,2000,2100],"labels":false,"tickSize":-2.5,"title":null}}}},
{"data":{"values":[{"x":-0.07,"y":197},{"x":8.31,"y":2110}]},
"mark":{"type":"line","color":"#ff1010","strokeWidth":1.6,"clip":true},
"encoding":{"x":{"field":"x","type":"quantitative","scale":{"domain":[-2.968,9.406],"nice":false,"zero":false},"axis":{"orient":"top","values":[-2,0,2,4,6,8],"labels":false,"tickSize":-5,"title":null}},
"y":{"field":"y","type":"quantitative","scale":{"domain":[0,2110],"nice":false,"zero":false},"axis":{"orient":"right","values":[0,500,1000,1500,2000],"labels":false,"tickSize":-5,"title":null}}}},
{"data":{"values":[{"x":-2.57,"y":1800,"t":"E"}]},
"mark":{"type":"text","fontSize":22,"fontWeight":"bold","align":"left","baseline":"alphabetic","color":"#000"},
"encoding":{"x":{"field":"x","type":"quantitative","scale":{"domain":[-2.968,9.406],"nice":false,"zero":false},"axis":{"orient":"top","values":[-2.5,-2,-1.5,-1,-0.5,0,0.5,1,1.5,2,2.5,3,3.5,4,4.5,5,5.5,6,6.5,7,7.5,8,8.5,9],"labels":false,"tickSize":-2.5,"title":null}},
"y":{"field":"y","type":"quantitative","scale":{"domain":[0,2110],"nice":false,"zero":false},"axis":{"orient":"right","values":[0,100,200,300,400,500,600,700,800,900,1000,1100,1200,1300,1400,1500,1600,1700,1800,1900,2000,2100],"labels":false,"tickSize":-2.5,"title":null}},"text":{"field":"t"}}},
{"data":{"values":[{"x":2.21,"y":1622,"t":"21-point"},{"x":2.21,"y":1516,"t":"running average"}]},
"mark":{"type":"text","fontSize":11,"align":"center","baseline":"alphabetic","color":"#1a82ff"},
"encoding":{"x":{"field":"x","type":"quantitative","axis":null},"y":{"field":"y","type":"quantitative","axis":null},"text":{"field":"t"}}},
{"data":{"values":[{"x":4.64,"y":433,"t":"r"}]},
"mark":{"type":"text","fontSize":19,"align":"left","baseline":"alphabetic","color":"#ff1010"},
"encoding":{"x":{"field":"x","type":"quantitative","axis":null},"y":{"field":"y","type":"quantitative","axis":null},"text":{"field":"t"}}},
{"data":{"values":[{"x":6.06,"y":433,"t":"= 0.800"}]},
"mark":{"type":"text","fontSize":18,"align":"left","baseline":"alphabetic","color":"#ff1010"},
"encoding":{"x":{"field":"x","type":"quantitative","axis":null},"y":{"field":"y","type":"quantitative","axis":null},"text":{"field":"t"}}},
{"data":{"values":[{"x":4.87,"y":324,"t":"corr"}]},
"mark":{"type":"text","fontSize":13,"align":"left","baseline":"alphabetic","color":"#ff1010"},
"encoding":{"x":{"field":"x","type":"quantitative","axis":null},"y":{"field":"y","type":"quantitative","axis":null},"text":{"field":"t"}}},
{"data":{"values":[{"x":1.81,"y":-260,"t":"S"}]},
"mark":{"type":"text","fontSize":18,"align":"left","baseline":"alphabetic","color":"#000"},
"encoding":{"x":{"field":"x","type":"quantitative","axis":null},"y":{"field":"y","type":"quantitative","axis":null},"text":{"field":"t"}}},
{"data":{"values":[{"x":2.5,"y":-305,"t":"(1)(9b)"}]},
"mark":{"type":"text","fontSize":8.5,"align":"left","baseline":"alphabetic","color":"#000"},
"encoding":{"x":{"field":"x","type":"quantitative","axis":null},"y":{"field":"y","type":"quantitative","axis":null},"text":{"field":"t"}}},
{"data":{"values":[{"x":-3.484,"y":1124,"t":"SME"}]},
"mark":{"type":"text","fontSize":19,"angle":270,"align":"center","baseline":"alphabetic","color":"#000"},
"encoding":{"x":{"field":"x","type":"quantitative","axis":null},"y":{"field":"y","type":"quantitative","axis":null},"text":{"field":"t"}}},
{"data":{"values":[{"x":-3.324,"y":1333,"t":"1"}]},
"mark":{"type":"text","fontSize":10.5,"angle":270,"align":"left","baseline":"alphabetic","color":"#000"},
"encoding":{"x":{"field":"x","type":"quantitative","axis":null},"y":{"field":"y","type":"quantitative","axis":null},"text":{"field":"t"}}}
]
}
]
}
